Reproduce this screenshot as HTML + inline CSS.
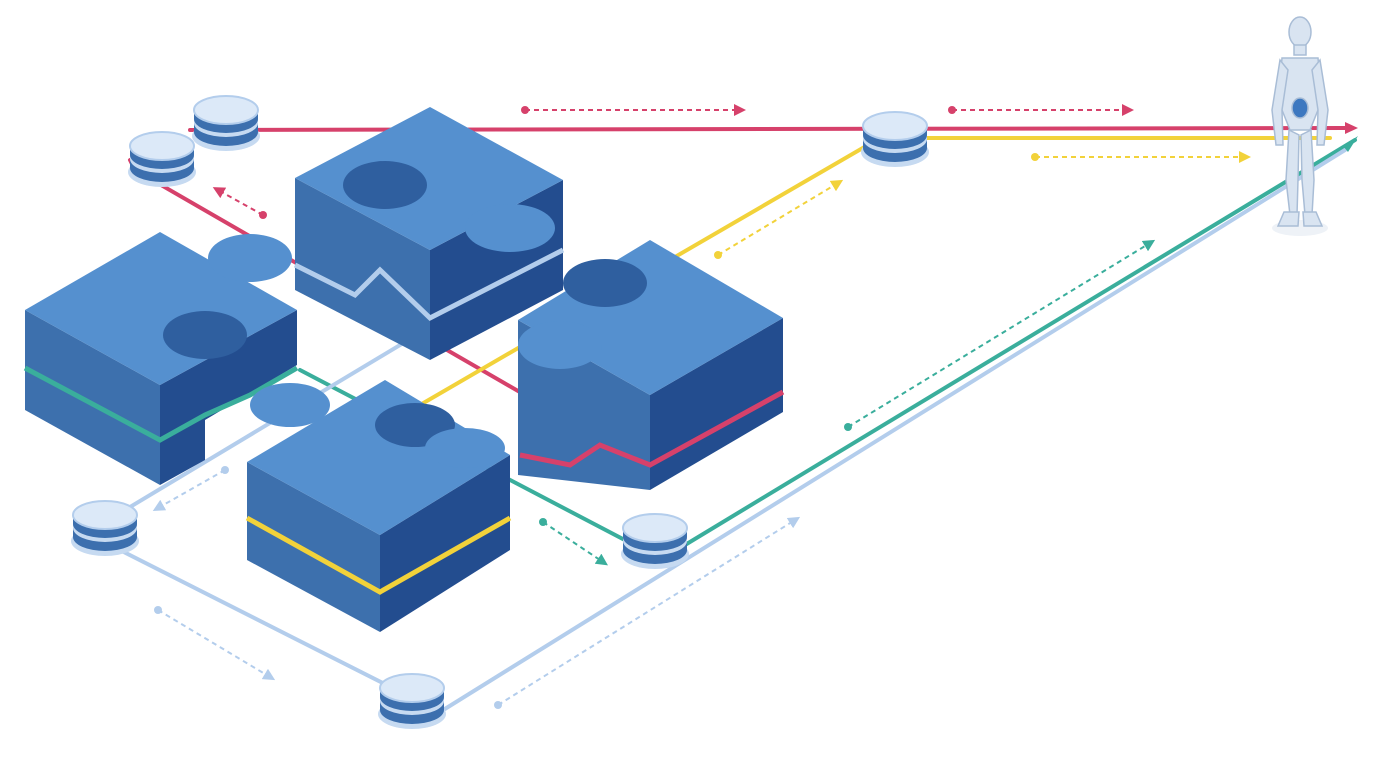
<!DOCTYPE html>
<html><head><meta charset="utf-8"><style>
html,body{margin:0;padding:0;background:#fff;width:1388px;height:760px;overflow:hidden}
</style></head><body>
<svg width="1388" height="760" viewBox="0 0 1388 760" xmlns="http://www.w3.org/2000/svg">
<defs>
<marker id="ap" markerWidth="8" markerHeight="8" refX="6" refY="4" orient="auto"><path d="M0,0 L8,4 L0,8z" fill="#d6416b"/></marker>
<marker id="bp" markerWidth="6" markerHeight="6" refX="3" refY="3" orient="auto"><path d="M0,0 L6,3 L0,6z" fill="#d6416b"/></marker>
<marker id="by" markerWidth="6" markerHeight="6" refX="3" refY="3" orient="auto"><path d="M0,0 L6,3 L0,6z" fill="#f2d23a"/></marker>
<marker id="bt" markerWidth="6" markerHeight="6" refX="3" refY="3" orient="auto"><path d="M0,0 L6,3 L0,6z" fill="#3aae9c"/></marker>
<marker id="bb" markerWidth="6" markerHeight="6" refX="3" refY="3" orient="auto"><path d="M0,0 L6,3 L0,6z" fill="#b3cdec"/></marker>
<g id="puck">
<ellipse cx="0" cy="26" rx="34" ry="15" fill="#c6daf1"/>
<path d="M-32,0 L-32,22 A32,14 0 0 0 32,22 L32,0z" fill="#3c6fae"/>
<path d="M-32,9 A32,14 0 0 0 32,9 L32,13 A32,14 0 0 1 -32,13z" fill="#c6daf1"/>
<ellipse cx="0" cy="0" rx="32" ry="14" fill="#dce9f8" stroke="#b3cdec" stroke-width="2"/>
</g>
</defs>

<g fill="none" stroke-width="4" stroke-linecap="round">
<polyline points="190,130 1345,128" stroke="#d6416b"/>
<polyline points="130,160 135,170 525,395" stroke="#d6416b"/>
<polyline points="880,138 1330,138" stroke="#f2d23a"/>
<polyline points="880,138 420,405" stroke="#f2d23a"/>
<polyline points="1355,140 680,548" stroke="#3aae9c"/>
<polyline points="640,548 300,370" stroke="#3aae9c"/>
<polyline points="1345,150 440,712" stroke="#b3cdec"/>
<polyline points="440,712 100,540" stroke="#b3cdec"/>
<polyline points="100,525 475,300" stroke="#b3cdec"/>
</g>
<path d="M1345,134 L1358,128 L1345,122z" fill="#d6416b"/>
<path d="M1343,146 L1358,136 L1348,152z" fill="#3aae9c"/>

<g fill="none" stroke-width="2" stroke-dasharray="5,4">
<line x1="525" y1="110" x2="740" y2="110" stroke="#d6416b" marker-end="url(#bp)"/>
<line x1="952" y1="110" x2="1128" y2="110" stroke="#d6416b" marker-end="url(#bp)"/>
<line x1="263" y1="215" x2="218" y2="190" stroke="#d6416b" marker-end="url(#bp)"/>
<line x1="1035" y1="157" x2="1245" y2="157" stroke="#f2d23a" marker-end="url(#by)"/>
<line x1="718" y1="255" x2="838" y2="183" stroke="#f2d23a" marker-end="url(#by)"/>
<line x1="848" y1="427" x2="1150" y2="243" stroke="#3aae9c" marker-end="url(#bt)"/>
<line x1="543" y1="522" x2="603" y2="562" stroke="#3aae9c" marker-end="url(#bt)"/>
<line x1="225" y1="470" x2="158" y2="508" stroke="#b3cdec" marker-end="url(#bb)"/>
<line x1="158" y1="610" x2="270" y2="677" stroke="#b3cdec" marker-end="url(#bb)"/>
<line x1="498" y1="705" x2="795" y2="520" stroke="#b3cdec" marker-end="url(#bb)"/>
</g>
<g>
<circle cx="525" cy="110" r="4" fill="#d6416b"/><circle cx="952" cy="110" r="4" fill="#d6416b"/><circle cx="263" cy="215" r="4" fill="#d6416b"/>
<circle cx="1035" cy="157" r="4" fill="#f2d23a"/><circle cx="718" cy="255" r="4" fill="#f2d23a"/>
<circle cx="848" cy="427" r="4" fill="#3aae9c"/><circle cx="543" cy="522" r="4" fill="#3aae9c"/>
<circle cx="225" cy="470" r="4" fill="#b3cdec"/><circle cx="158" cy="610" r="4" fill="#b3cdec"/><circle cx="498" cy="705" r="4" fill="#b3cdec"/>
</g>

<g>
<polygon points="295,178 295,290 430,360 430,250" fill="#3d70ad"/>
<polygon points="430,250 430,360 563,290 563,180" fill="#234d8f"/>
<polygon points="295,178 430,107 563,180 430,250" fill="#5590cf"/>
<polyline points="295,265 355,295 380,270 430,318 563,250" fill="none" stroke="#b3cdec" stroke-width="5"/>
<ellipse cx="385" cy="185" rx="42" ry="24" fill="#2f5f9f"/>
<ellipse cx="510" cy="228" rx="45" ry="24" fill="#5590cf"/>
</g>
<g>
<polygon points="25,310 25,410 160,485 160,385" fill="#3d70ad"/>
<polygon points="160,385 160,485 205,460 205,420 297,365 297,310" fill="#234d8f"/>
<polygon points="25,310 160,232 297,310 160,385" fill="#5590cf"/>
<ellipse cx="250" cy="258" rx="42" ry="24" fill="#5590cf"/>
<ellipse cx="205" cy="335" rx="42" ry="24" fill="#2f5f9f"/>
<polyline points="25,368 160,440 205,415 250,395 297,368" fill="none" stroke="#3aae9c" stroke-width="5"/>
</g>
<g>
<polygon points="518,320 518,475 650,490 650,395" fill="#3d70ad"/>
<polygon points="650,395 650,490 783,412 783,318" fill="#234d8f"/>
<polygon points="518,320 650,240 783,318 650,395" fill="#5590cf"/>
<ellipse cx="605" cy="283" rx="42" ry="24" fill="#2f5f9f"/>
<ellipse cx="560" cy="345" rx="42" ry="24" fill="#5590cf"/>
<polyline points="520,455 570,465 600,445 650,465 783,392" fill="none" stroke="#d6416b" stroke-width="5"/>
</g>
<g>
<polygon points="247,462 247,560 380,632 380,535" fill="#3d70ad"/>
<polygon points="380,535 380,632 510,550 510,455" fill="#234d8f"/>
<polygon points="247,462 385,380 510,455 380,535" fill="#5590cf"/>
<ellipse cx="290" cy="405" rx="40" ry="22" fill="#5590cf"/>
<ellipse cx="415" cy="425" rx="40" ry="22" fill="#2f5f9f"/>
<ellipse cx="465" cy="448" rx="40" ry="20" fill="#5590cf"/>
<polyline points="247,518 380,592 510,518" fill="none" stroke="#f2d23a" stroke-width="5"/>
</g>

<use href="#puck" x="226" y="110"/>
<use href="#puck" x="162" y="146"/>
<use href="#puck" x="895" y="126"/>
<use href="#puck" x="105" y="515"/>
<use href="#puck" x="655" y="528"/>
<use href="#puck" x="412" y="688"/>

<g fill="#d9e4f1" stroke="#a9bdd6" stroke-width="1.5">
<ellipse cx="1300" cy="228" rx="28" ry="8" fill="#eef2f7" stroke="none"/>
<ellipse cx="1300" cy="32" rx="11" ry="15"/>
<rect x="1294" y="45" width="12" height="10"/>
<path d="M1282,58 L1318,58 L1322,100 L1310,130 L1290,130 L1278,100z"/>
<ellipse cx="1300" cy="108" rx="8" ry="10" fill="#3d78c0"/>
<path d="M1280,60 L1272,110 L1276,145 L1283,145 L1282,110 L1288,70z"/>
<path d="M1320,60 L1328,110 L1324,145 L1317,145 L1318,110 L1312,70z"/>
<path d="M1289,130 L1286,180 L1290,215 L1297,215 L1298,180 L1299,135z"/>
<path d="M1311,130 L1314,180 L1312,215 L1305,215 L1302,180 L1301,135z"/>
<path d="M1284,212 L1299,212 L1298,226 L1278,226z"/>
<path d="M1303,212 L1316,212 L1322,226 L1304,226z"/>
</g>
</svg>
</body></html>
